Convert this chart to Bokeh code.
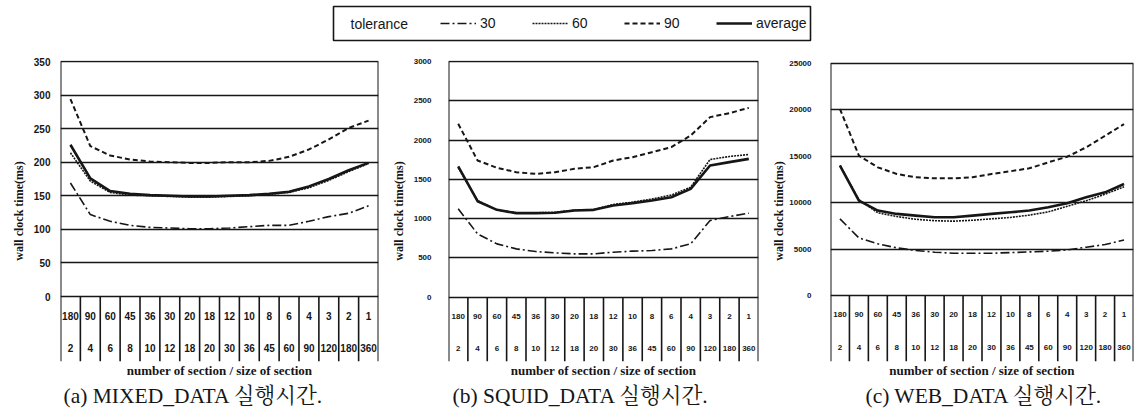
from bokeh.plotting import figure
from bokeh.models import FixedTicker, Range1d, Legend, LegendItem, Title
from bokeh.layouts import column, row
from bokeh.embed import file_html
from bokeh.resources import INLINE
from bokeh.core.properties import value

# ---------------- data ----------------
sections = ["180", "90", "60", "45", "36", "30", "20", "18", "12", "10", "8", "6", "4", "3", "2", "1"]
sizes = ["2", "4", "6", "8", "10", "12", "18", "20", "30", "36", "45", "60", "90", "120", "180", "360"]

mixed_30 = [169, 122, 112, 106, 103, 102, 101, 101, 102, 104, 106, 106, 112, 119, 124, 135]
mixed_60 = [214, 172, 155, 151, 150, 149, 148, 148, 149, 150, 152, 155, 162, 173, 186, 198]
mixed_90 = [294, 224, 210, 204, 201, 200, 199, 199, 200, 200, 202, 208, 219, 234, 251, 262]
mixed_avg = [226, 176, 157, 153, 151, 150, 149, 149, 150, 151, 153, 156, 164, 175, 188, 199]

squid_30 = [1125, 806, 679, 615, 581, 564, 552, 552, 573, 586, 594, 615, 679, 976, 1027, 1069]
squid_60 = [1650, 1230, 1110, 1075, 1075, 1080, 1110, 1115, 1180, 1210, 1250, 1300, 1400, 1753, 1791, 1816]
squid_90 = [2207, 1740, 1647, 1591, 1570, 1591, 1634, 1655, 1740, 1782, 1846, 1910, 2058, 2292, 2343, 2410]
squid_avg = [1664, 1222, 1112, 1070, 1070, 1074, 1103, 1112, 1167, 1197, 1231, 1273, 1379, 1676, 1719, 1761]

web_30 = [8240, 6200, 5560, 5130, 4840, 4660, 4550, 4550, 4550, 4620, 4690, 4770, 4910, 5200, 5480, 5980]
web_60 = [14000, 10300, 8900, 8500, 8200, 8050, 8000, 8100, 8250, 8400, 8650, 9000, 9600, 10200, 10900, 11700]
web_90 = [20070, 15050, 13790, 13080, 12720, 12610, 12610, 12720, 13080, 13370, 13690, 14330, 14940, 15940, 17190, 18440]
web_avg = [13975, 10210, 9140, 8780, 8600, 8420, 8420, 8600, 8780, 8960, 9140, 9500, 9930, 10570, 11100, 12000]

legend_title = "tolerance"
legend_labels = ["30", "60", "90", "average"]
captions = ["(a) MIXED_DATA 실행시간.", "(b) SQUID_DATA 실행시간.", "(c) WEB_DATA 실행시간."]
y_title = "wall clock time(ms)"
x_title = "number of section / size of section"

# ---------------- styles ----------------
INK = "#161616"
STYLES = {
    "30": dict(line_dash="9 3 2 3", line_width=1.6),
    "60": dict(line_dash="2 1", line_width=1.6),
    "90": dict(line_dash="5 3", line_width=2.0),
    "average": dict(line_dash="solid", line_width=2.6),
}
SANS_NAME = "Liberation Sans"
SERIF_NAME = "Liberation Serif, Noto Serif CJK KR, Noto Sans CJK KR"
SANS = value(SANS_NAME)
TITLE_HAS_STANDOFF = "standoff" in Title.properties()

FRAME_TOP = 60
FRAME_BOTTOM = 361
LEGEND_H = 44


def make_title(text, align, offset, size, style, standoff):
    t = Title(text=text, align=align, offset=offset, text_font=SERIF_NAME,
              text_font_size=size, text_font_style=style, text_color=INK)
    if TITLE_HAS_STANDOFF:
        t.standoff = standoff
    return t


def make_panel(series, caption, vmax, step, top_px, zero_px, mb_left, fw, mb_right,
               tick_standoff, tick_size, ytitle_standoff, cap_off):
    ppu = (zero_px - top_px) / vmax
    y_end = vmax + (top_px - FRAME_TOP) / ppu
    y_start = -(FRAME_BOTTOM - zero_px) / ppu
    n = len(sections)
    p = figure(frame_width=fw, frame_height=FRAME_BOTTOM - FRAME_TOP,
               min_border_left=mb_left, min_border_right=mb_right,
               min_border_top=FRAME_TOP - LEGEND_H, min_border_bottom=48,
               x_range=Range1d(0, n), y_range=Range1d(y_start, y_end),
               output_backend="svg", toolbar_location=None)
    p.outline_line_color = None
    p.xgrid.visible = False

    yticks = list(range(0, vmax + 1, step))
    p.yaxis.ticker = FixedTicker(ticks=yticks)
    p.ygrid.ticker = FixedTicker(ticks=yticks)
    p.ygrid.grid_line_color = INK
    p.ygrid.grid_line_width = 1.6
    p.yaxis.axis_line_color = None
    p.yaxis.major_tick_line_color = None
    p.yaxis.minor_tick_line_color = None
    p.yaxis.major_tick_out = 0
    p.yaxis.major_label_standoff = tick_standoff
    p.yaxis.major_label_text_font = SANS_NAME
    p.yaxis.major_label_text_font_style = "bold"
    p.yaxis.major_label_text_font_size = tick_size
    p.yaxis.major_label_text_color = INK

    p.xaxis.ticker = FixedTicker(ticks=[])
    p.xaxis.axis_line_color = None
    p.xaxis.major_tick_line_color = None
    p.xaxis.minor_tick_line_color = None
    p.xaxis.major_label_standoff = 0
    p.xaxis.major_tick_out = 0
    p.xaxis.axis_label = x_title
    p.xaxis.axis_label_standoff = 1
    p.xaxis.axis_label_text_font = SERIF_NAME
    p.xaxis.axis_label_text_font_style = "bold"
    p.xaxis.axis_label_text_font_size = "13px"
    p.xaxis.axis_label_text_color = INK

    # frame borders and table separators
    p.segment(x0=[0, n], y0=[y_start, y_start], x1=[0, n], y1=[vmax, vmax],
              line_color=INK, line_width=2.0)
    p.segment(x0=list(range(1, n)), y0=[y_start] * (n - 1),
              x1=list(range(1, n)), y1=[0] * (n - 1),
              line_color=INK, line_width=1.6)

    xs = [i + 0.5 for i in range(n)]
    row1 = -(19) / ppu
    row2 = -(51.5) / ppu
    p.text(x=xs, y=[row1] * n, text=sections, text_align="center", text_baseline="middle",
           text_font=SANS, text_font_style="bold", text_font_size=tick_size, text_color=INK)
    p.text(x=xs, y=[row2] * n, text=sizes, text_align="center", text_baseline="middle",
           text_font=SANS, text_font_style="bold", text_font_size=tick_size, text_color=INK)

    for key, vals in series:
        p.line(xs, vals, line_color=INK, **STYLES[key])

    # y title (left, shifted up to centre on the value area) and caption (below)
    p.add_layout(make_title(y_title, "center", (FRAME_BOTTOM - zero_px) / 2, "12px", "bold",
                            ytitle_standoff), "left")
    p.add_layout(make_title(caption, "left", cap_off, "21.5px", "normal", 2), "below")
    return p


fa = make_panel([("30", mixed_30), ("60", mixed_60), ("90", mixed_90), ("average", mixed_avg)],
                captions[0], 350, 50, 61, 296, 60, 318, 6, 10, "10px", 9, 3)
fb = make_panel([("30", squid_30), ("60", squid_60), ("90", squid_90), ("average", squid_avg)],
                captions[1], 3000, 500, 61, 296.7, 64, 310, 4, 17, "8px", 9, 4)
fc = make_panel([("30", web_30), ("60", web_60), ("90", web_90), ("average", web_avg)],
                captions[2], 25000, 5000, 62.7, 295, 68, 303, 4, 19, "8px", 1, 35)

# legend strip (1 data unit = 1 px)
LW = 1137
lf = figure(width=LW, height=LEGEND_H, min_border=0, x_axis_type=None, y_axis_type=None,
            x_range=Range1d(0, LW), y_range=Range1d(0, LEGEND_H),
            toolbar_location=None, output_backend="svg")
lf.grid.visible = False
lf.outline_line_color = None
lf.quad(left=[333], right=[810], bottom=[LEGEND_H - 40], top=[LEGEND_H - 6],
        fill_color=None, line_color=INK, line_width=1.6)
lf.text(x=[350], y=[LEGEND_H - 23], text=[legend_title], text_align="left",
        text_baseline="middle", text_font=SANS, text_font_size="14px", text_color=INK)
items = []
for lab in legend_labels:
    # off-screen stand-in renderers, only used for their legend swatches
    r = lf.line([-20, -10], [-20, -20], line_color=INK, **STYLES[lab])
    items.append(LegendItem(label=lab, renderers=[r]))
leg = Legend(items=items, orientation="horizontal", location=(440, LEGEND_H - 23 - 8),
             label_text_font=SANS_NAME, label_text_font_size="14px", label_text_color=INK,
             glyph_width=36, glyph_height=16, label_height=16, label_standoff=4, spacing=32,
             padding=0, margin=0, border_line_color=None, background_fill_alpha=0)
lf.add_layout(leg)

layout = column(lf, row(fa, fb, fc, spacing=0), spacing=0)
open("out.html", "w").write(file_html(layout, INLINE))
